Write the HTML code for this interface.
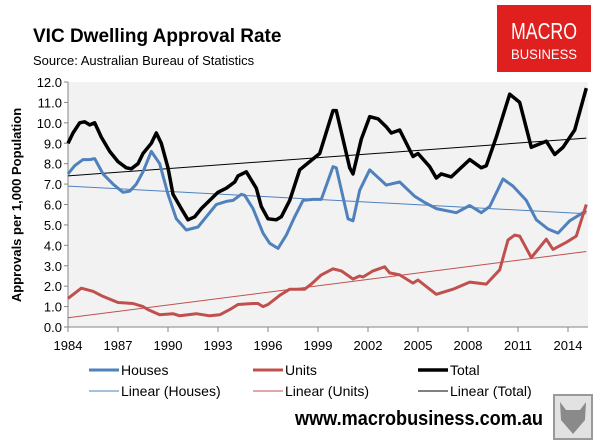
<!DOCTYPE html>
<html><head><meta charset="utf-8"><style>
body{margin:0;background:#fff;}
svg{display:block;font-family:"Liberation Sans",sans-serif;}
</style></head><body>
<svg id="c" width="609" height="441" viewBox="0 0 609 441">
<text x="33" y="42" font-size="19" font-weight="bold">VIC Dwelling Approval Rate</text>
<text x="33" y="65" font-size="13">Source: Australian Bureau of Statistics</text>
<g>
<rect x="497" y="5" width="94" height="67" fill="#e0201f"/>
<text x="544" y="39" font-size="23" fill="#fff" text-anchor="middle" textLength="66" lengthAdjust="spacingAndGlyphs">MACRO</text>
<text x="544" y="59" font-size="14" fill="#fff" text-anchor="middle" textLength="66" lengthAdjust="spacingAndGlyphs">BUSINESS</text>
</g>
<rect x="68" y="82" width="520" height="245" fill="#f2f2f2"/>
<g id="axes"></g>
<g id="series"></g>
<g id="legend"></g>
<text x="295" y="425" font-size="20" font-weight="bold" textLength="248" lengthAdjust="spacingAndGlyphs">www.macrobusiness.com.au</text>
<g>
<rect x="554" y="395" width="38" height="44" fill="#e2e2e2" stroke="#999" stroke-width="2"/>
<path d="M560 402 L566 410 L580 410 L586 402 L585 420 L573 434 L561 420 Z" fill="#8a8a8a"/>
</g>
</svg>
<script>
const yTicks=[0,1,2,3,4,5,6,7,8,9,10,11,12];
const xTicks=[1984,1987,1990,1993,1996,1999,2002,2005,2008,2011,2014];
const houseYears=[1984,1984.4,1984.9,1985.3,1985.6,1986.1,1986.7,1987.3,1987.7,1988.1,1988.5,1989,1989.5,1990,1990.5,1991.1,1991.8,1992.4,1992.9,1993.5,1993.9,1994.4,1994.6,1995.1,1995.7,1996.1,1996.6,1997.1,1997.6,1998.1,1998.7,1999.2,1999.9,2000.1,2000.8,2001.1,2001.5,2002.1,2003.1,2003.9,2004.8,2005.4,2006.1,2007.3,2008.1,2008.8,2009.3,2010.1,2010.7,2011.5,2012.1,2012.8,2013.4,2014.1,2015.1];
const houseVals=[7.5,7.9,8.2,8.2,8.25,7.5,7.0,6.6,6.65,7.0,7.6,8.6,8.0,6.5,5.3,4.75,4.9,5.5,6.0,6.15,6.2,6.5,6.45,5.8,4.6,4.1,3.85,4.5,5.4,6.2,6.25,6.25,7.85,7.8,5.3,5.2,6.7,7.7,6.95,7.1,6.4,6.1,5.8,5.6,5.95,5.6,5.9,7.25,6.9,6.2,5.25,4.8,4.6,5.2,5.7];
const unitYears=[1984,1984.8,1985.5,1986.1,1987,1987.9,1988.5,1988.8,1989.5,1990.3,1990.7,1991.7,1992.5,1993.1,1993.7,1994.2,1995.1,1995.4,1995.7,1996,1996.7,1997.3,1998.2,1998.6,1999.2,1999.9,2000.4,2001.1,2001.5,2001.7,2002.3,2003,2003.3,2003.9,2004.7,2005,2005.7,2006.1,2007.1,2008.1,2009.1,2009.9,2010.4,2010.8,2011.1,2011.8,2012.1,2012.7,2013.1,2013.9,2014.5,2015.1];
const unitVals=[1.4,1.9,1.75,1.5,1.2,1.15,1.0,0.85,0.6,0.65,0.55,0.65,0.55,0.6,0.85,1.1,1.15,1.15,1.0,1.1,1.55,1.85,1.85,2.1,2.55,2.85,2.75,2.35,2.5,2.45,2.75,2.95,2.65,2.55,2.15,2.3,1.85,1.6,1.85,2.2,2.1,2.8,4.26,4.5,4.45,3.4,3.7,4.3,3.8,4.15,4.45,6.0];
const totalYears=[1984,1984.3,1984.7,1985,1985.3,1985.6,1986,1986.5,1987,1987.5,1987.8,1988.2,1988.5,1989,1989.3,1989.6,1990,1990.3,1990.8,1991.2,1991.6,1992,1992.5,1993,1993.5,1994,1994.2,1994.7,1995,1995.3,1995.6,1996,1996.5,1996.8,1997.3,1997.9,1998.5,1999.1,1999.9,2000.1,2000.9,2001.1,2001.6,2002.1,2002.6,2003.1,2003.4,2003.9,2004.7,2005,2005.7,2006.1,2006.4,2007,2008.1,2008.8,2009.1,2009.7,2010.5,2011.1,2011.8,2012.7,2013.2,2013.7,2014.4,2015.1];
const totalVals=[9.0,9.5,10.0,10.05,9.9,10.0,9.3,8.6,8.1,7.8,7.75,8.0,8.5,9.0,9.5,9.0,7.8,6.5,5.8,5.25,5.4,5.8,6.2,6.6,6.8,7.1,7.4,7.6,7.2,6.8,5.9,5.3,5.25,5.4,6.2,7.7,8.1,8.5,10.6,10.6,7.8,7.5,9.2,10.3,10.2,9.8,9.5,9.65,8.35,8.5,7.85,7.3,7.5,7.35,8.2,7.8,7.9,9.3,11.4,11.0,8.8,9.1,8.45,8.8,9.65,11.7];
const trendYears=[1984,2015.1];
const houseTrend=[6.9,5.55];
const unitTrend=[0.45,3.7];
const totalTrend=[7.4,9.25];

const NS='http://www.w3.org/2000/svg';
const X0=68,PX_PER_YR=500/30,Y0=327,PX_PER_UNIT=245/12;
const xs=v=>X0+(v-1984)*PX_PER_YR;
const ys=v=>Y0-v*PX_PER_UNIT;
function mk(tag,attrs,parent){const e=document.createElementNS(NS,tag);for(const k in attrs)e.setAttribute(k,attrs[k]);parent.appendChild(e);return e;}
const axes=document.getElementById('axes');
mk('line',{x1:X0,y1:82,x2:X0,y2:Y0,stroke:'#868686','stroke-width':1},axes);
mk('line',{x1:X0,y1:Y0,x2:588,y2:Y0,stroke:'#868686','stroke-width':1},axes);
yTicks.forEach(t=>{
  mk('line',{x1:X0-4,y1:ys(t),x2:X0,y2:ys(t),stroke:'#868686'},axes);
  const tx=mk('text',{x:X0-6,y:ys(t)+5,'font-size':13,'text-anchor':'end'},axes);
  tx.textContent=t.toFixed(1);
  
  
});
xTicks.forEach(t=>{
  mk('line',{x1:xs(t),y1:Y0,x2:xs(t),y2:Y0+5,stroke:'#868686'},axes);
  const tx=mk('text',{x:xs(t),y:Y0+23,'font-size':13,'text-anchor':'middle'},axes);
  tx.textContent=t;
  
  
});
const yt=mk('text',{x:0,y:0,'font-size':13,'font-weight':'bold','text-anchor':'middle',transform:'translate(21,205) rotate(-90)'},axes);
yt.textContent='Approvals per 1,000 Population';



const ser=document.getElementById('series');
function line(xa,va,color,w,name){
  const d=xa.map((x,i)=>(i?'L':'M')+xs(x).toFixed(1)+' '+ys(va[i]).toFixed(1)).join(' ');
  const p=mk('path',{d:d,fill:'none',stroke:color,'stroke-width':w,'stroke-linejoin':'round'},ser);
  
  
}
line(trendYears,houseTrend,'#4f81bd',1,'linear-houses-line');
line(trendYears,unitTrend,'#c0504d',1,'linear-units-line');
line(trendYears,totalTrend,'#000',1,'linear-total-line');
line(houseYears,houseVals,'#4f81bd',3,'houses-line');
line(unitYears,unitVals,'#c0504d',3,'units-line');
line(totalYears,totalVals,'#000',3.5,'total-line');

const lg=document.getElementById('legend');
const items=[['Houses','#4f81bd',3,89,370],['Units','#c0504d',3,253,370],['Total','#000',3.5,418,370],
['Linear (Houses)','#4f81bd',1,89,391],['Linear (Units)','#c0504d',1,253,391],['Linear (Total)','#000',1,418,391]];
items.forEach(it=>{
  const g=mk('g',{},lg);
  
  
  mk('line',{x1:it[3],y1:it[4],x2:it[3]+30,y2:it[4],stroke:it[1],'stroke-width':it[2]},g);
  const t=mk('text',{x:it[3]+32,y:it[4]+5,'font-size':14},g);
  t.textContent=it[0];
});
</script>
</body></html>
